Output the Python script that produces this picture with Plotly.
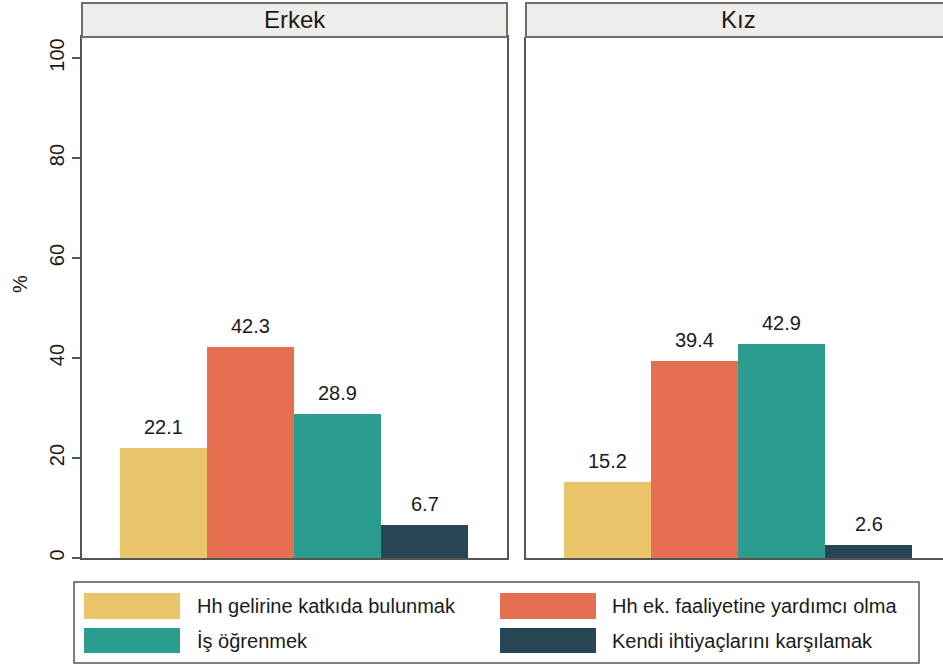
import plotly.graph_objects as go

panels = ["Erkek", "Kız"]
categories = ["Hh gelirine katkıda bulunmak", "Hh ek. faaliyetine yardımcı olma",
              "İş öğrenmek", "Kendi ihtiyaçlarını karşılamak"]
colors = ["#e9c46a", "#e76f51", "#2a9d8f", "#264653"]
erkek_values = [22.1, 42.3, 28.9, 6.7]
kiz_values = [15.2, 39.4, 42.9, 2.6]
y_ticks = [0, 20, 40, 60, 80, 100]

W, H = 943, 666
L, R, T, B = 82, 0, 37, 108
pw, ph = W - L - R, H - T - B

def px_x(p):
    return (p - L) / pw

def px_y(p):
    return (H - B - p) / ph

FONT = "Arial, Liberation Sans, sans-serif"
TXT = "#1a1a1a"
LINE = "#555555"

fig = go.Figure()
xpos = list(range(len(categories)))
for k, vals in enumerate([erkek_values, kiz_values]):
    xa = "x" if k == 0 else "x2"
    fig.add_trace(go.Bar(x=xpos, y=vals, marker=dict(color=colors, line=dict(width=0)),
                         width=1, xaxis=xa, yaxis="y" if k == 0 else "y2",
                         showlegend=False, hoverinfo="skip"))
    for i, v in enumerate(vals):
        fig.add_annotation(x=i, y=v, xref=xa, yref="y" if k == 0 else "y2",
                           text=f"{v:.1f}", showarrow=False, yanchor="bottom",
                           yshift=8, font=dict(size=20, color=TXT, family=FONT))

dom1 = [0, px_x(507)]
dom2 = [px_x(526), 1]
yr = [0, 104.2]

fig.update_layout(
    width=W, height=H, margin=dict(l=L, r=R, t=T, b=B, pad=0),
    paper_bgcolor="white", plot_bgcolor="white", bargap=0,
    font=dict(family=FONT, color=TXT, size=20),
    xaxis=dict(domain=dom1, range=[-0.937, 3.948], showticklabels=False, ticks="",
               showgrid=False, zeroline=False, showline=True, linecolor=LINE,
               linewidth=1.5, mirror=True),
    xaxis2=dict(domain=dom2, range=[-0.937, 3.856], showticklabels=False, ticks="",
                showgrid=False, zeroline=False, showline=True, linecolor=LINE,
                linewidth=1.5, mirror=False, anchor="y2"),
    yaxis=dict(range=yr, tickvals=y_ticks, tickangle=-90, ticks="outside", ticklen=8,
               tickcolor=LINE, tickwidth=1.5, showgrid=False, zeroline=False,
               showline=True, linecolor=LINE, linewidth=1.5, mirror=True,
               tickfont=dict(size=20, color=TXT, family=FONT)),
    yaxis2=dict(range=yr, anchor="x2", showticklabels=False, ticks="", showgrid=False,
                zeroline=False, showline=True, linecolor=LINE, linewidth=1.5),
)

# top border of right panel
fig.add_shape(type="line", xref="paper", yref="paper", x0=dom2[0], x1=1.05, y0=1, y1=1,
              line=dict(color=LINE, width=1.5))

# panel headers
hy0, hy1 = 1, px_y(3)
for name, dom in zip(panels, [dom1, [dom2[0], 1.05]]):
    fig.add_shape(type="rect", xref="paper", yref="paper", x0=dom[0], x1=dom[1],
                  y0=hy0, y1=hy1, fillcolor="#eeedea", line=dict(color="#6e6e6e", width=2),
                  layer="above")
centers = [(82 + 507) / 2, (526 + 950) / 2]
for name, c in zip(panels, centers):
    fig.add_annotation(xref="paper", yref="paper", x=px_x(c), y=(hy0 + hy1) / 2,
                       text=name, showarrow=False, xanchor="center", yanchor="middle",
                       font=dict(size=24, color=TXT, family=FONT))

# y-axis title
fig.add_annotation(xref="paper", yref="paper", x=px_x(20), y=px_y(284), text="%",
                   textangle=-90, showarrow=False, xanchor="center", yanchor="middle",
                   font=dict(size=20, color=TXT, family=FONT))

# legend box
fig.add_shape(type="rect", xref="paper", yref="paper", x0=px_x(74), x1=px_x(919),
              y0=px_y(663), y1=px_y(582), line=dict(color="#555555", width=1.5),
              fillcolor="white")
sw_x = [84, 500]
txt_x = [195, 610]
rows_y = [(593, 619), (628, 653)]
for i, (cat, col) in enumerate(zip(categories, colors)):
    c, r = i % 2, i // 2
    y0p, y1p = rows_y[r]
    fig.add_shape(type="rect", xref="paper", yref="paper", x0=px_x(sw_x[c]),
                  x1=px_x(sw_x[c] + 96), y0=px_y(y1p), y1=px_y(y0p), fillcolor=col,
                  line=dict(width=0))
    fig.add_annotation(xref="paper", yref="paper", x=px_x(txt_x[c]),
                       y=px_y((y0p + y1p) / 2), text=cat, showarrow=False,
                       xanchor="left", yanchor="middle",
                       font=dict(size=20, color=TXT, family=FONT))

fig.write_html("out.html", config={"displayModeBar": False},
               post_script="document.body.style.margin='0';document.body.style.overflow='hidden';")
